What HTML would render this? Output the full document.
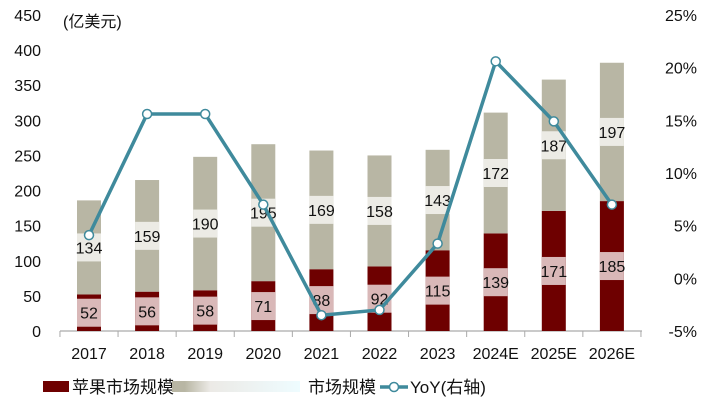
<!DOCTYPE html>
<html><head><meta charset="utf-8"><style>
body{margin:0;background:#fff;}
svg text{font-family:"Liberation Sans","Noto Sans CJK SC",sans-serif;}
</style></head><body>
<svg id="c" width="720" height="414" viewBox="0 0 720 414"></svg>
<script>
const categories=["2017","2018","2019","2020","2021","2022","2023","2024E","2025E","2026E"];
const appleValues=[52,56,58,71,88,92,115,139,171,185];
const otherValues=[134,159,190,195,169,158,143,172,187,197];
const yoyValues=[4.1,15.6,15.6,7.0,-3.5,-3.0,3.3,20.6,14.9,7.0];
const leftTicks=[0,50,100,150,200,250,300,350,400,450];
const rightTicks=[-5,0,5,10,15,20,25];

const NS="http://www.w3.org/2000/svg";
const svg=document.getElementById('c');
const y0=331,yTop=15;
const yL=v=>y0-(v/450)*(y0-yTop);
const yR=v=>y0-((v+5)/30)*(y0-yTop);
const x0=60,step=58.1;
const xC=i=>89+i*step;
const bw=24;
function el(t,a,p){const e=document.createElementNS(NS,t);for(const k in a)e.setAttribute(k,a[k]);(p||svg).appendChild(e);return e;}
function txt(x,y,s,anchor,size,fill){const t=el('text',{x:x,y:y,'text-anchor':anchor,'font-size':size,fill:fill||'#111'});t.textContent=s;return t;}

const defs=el('defs',{});
const g=el('linearGradient',{id:'gg',x1:0,x2:1,y1:0,y2:0},defs);
el('stop',{offset:'0','stop-color':'#b8b6a4'},g);
el('stop',{offset:'0.1','stop-color':'#b8b6a4'},g);
el('stop',{offset:'0.3','stop-color':'#eceae6'},g);
el('stop',{offset:'1','stop-color':'#eefcff'},g);

leftTicks.forEach(v=>{const t=txt(41,yL(v)+6,String(v),'end',16);

});
rightTicks.forEach(v=>{const t=txt(697,yR(v)+6,v+'%','end',16);

});
const unit=txt(63,27,'(亿美元)','start',16);



const ax=el('line',{x1:x0,x2:642,y1:y0,y2:y0,stroke:'#aaa','stroke-width':1.2});


for(let i=0;i<=categories.length;i++){const x=xC(i)-step/2;
const tk=el('line',{x1:x,x2:x,y1:y0,y2:y0+6,stroke:'#aaa','stroke-width':1});

}

categories.forEach((c,i)=>{
 const x=xC(i);
 const a=appleValues[i],o=otherValues[i];
 const r1=el('rect',{x:x-bw/2,y:yL(a),width:bw,height:y0-yL(a),fill:'#6e0000'});
 
 
 const r2=el('rect',{x:x-bw/2,y:yL(a+o),width:bw,height:yL(a)-yL(a+o),fill:'#b8b6a4'});
 
 
 const ma=yL(a/2), mo=yL(a+o/2);
 const b1=el('rect',{x:x-bw/2,y:ma-14,width:bw,height:28,fill:'#d9b8b8'});
 
 
 const l1=txt(x,ma+6,String(a),'middle',16);
 
 
 const b2=el('rect',{x:x-bw/2,y:mo-14,width:bw,height:28,fill:'#ecebe5'});
 
 
 const l2=txt(x,mo+6,String(o),'middle',16);
 
 
 const cl=txt(x,359,c,'middle',16);
 
 
});

const pts=yoyValues.map((v,i)=>xC(i)+','+yR(v)).join(' ');
const pl=el('polyline',{points:pts,fill:'none',stroke:'#3f8a9c','stroke-width':3.5,'stroke-linejoin':'round'});


yoyValues.forEach((v,i)=>{
 const m=el('circle',{cx:xC(i),cy:yR(v),r:4.5,fill:'#fff',stroke:'#3f8a9c','stroke-width':1.5});
 
 
});

// legend
const lg=el('g',{});


const s1=el('rect',{x:43,y:381,width:26,height:11,fill:'#6e0000'},lg);


const t1=txt(72,393,'苹果市场规模','start',17);lg.appendChild(t1);


const s2=el('rect',{x:172,y:381,width:128,height:11,fill:'url(#gg)'},lg);


const t2=txt(308,393,'市场规模','start',17);lg.appendChild(t2);


const s3=el('line',{x1:380,x2:408,y1:387,y2:387,stroke:'#3f8a9c','stroke-width':3.5},lg);


const s4=el('circle',{cx:394,cy:387,r:4.5,fill:'#fff',stroke:'#3f8a9c','stroke-width':1.5},lg);


const t3=txt(410,393,'YoY(右轴)','start',17);lg.appendChild(t3);


</script>
</body></html>
